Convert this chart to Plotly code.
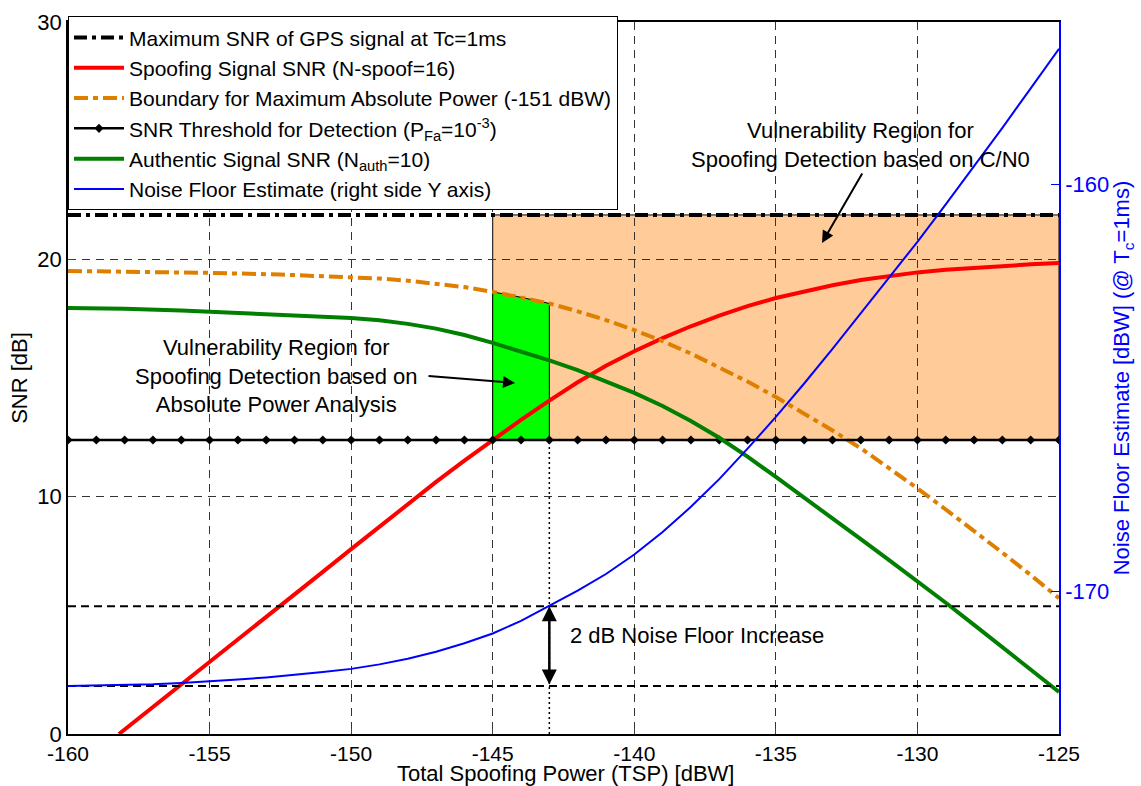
import plotly.graph_objects as go

# ---------------- data ----------------
# Spoofing signal SNR (red)
spoof_x = [-158.2, -157, -156, -155, -154, -153, -152, -151, -150, -149, -148,
           -147, -146, -145, -144, -143, -142, -141, -140, -139, -138, -137,
           -136, -135, -134, -133, -132, -131, -130, -129, -128, -127, -126, -125]
spoof_snr = [0.0, 1.13, 2.08, 3.03, 3.98, 4.93, 5.88, 6.83, 7.79, 8.74, 9.69,
             10.62, 11.52, 12.39, 13.24, 14.05, 14.82, 15.52, 16.13, 16.68, 17.18, 17.63,
             18.03, 18.37, 18.66, 18.91, 19.13, 19.31, 19.45, 19.56, 19.65, 19.72, 19.79, 19.85]

# Authentic signal SNR (green)
auth_x = [-160, -158, -156, -155, -154, -152, -151, -150, -149, -148, -147, -146,
          -145, -144, -143, -142, -141, -140, -139, -138, -137, -136, -135, -134,
          -133, -132, -131, -130, -129, -128, -127, -126, -125]
auth_snr = [17.95, 17.92, 17.84, 17.79, 17.74, 17.65, 17.60, 17.53, 17.43, 17.28,
            17.08, 16.81, 16.48, 16.12, 15.74, 15.33, 14.87, 14.37, 13.82, 13.19,
            12.48, 11.69, 10.83, 9.97, 9.09, 8.21, 7.33, 6.45, 5.53, 4.60, 3.66,
            2.71, 1.77]

# Boundary for maximum absolute power (orange dash-dot)
bound_x = [-160, -157.5, -155, -152.5, -150, -149, -148, -147, -146, -145, -144,
           -143, -142, -141, -140, -139, -138, -137, -136, -135, -134, -133, -132,
           -131, -130, -129, -128, -127, -126, -125]
bound_snr = [19.51, 19.48, 19.43, 19.36, 19.26, 19.19, 19.10, 18.98, 18.83, 18.63,
             18.40, 18.14, 17.81, 17.44, 17.02, 16.55, 16.03, 15.46, 14.85, 14.20,
             13.51, 12.79, 12.04, 11.22, 10.35, 9.46, 8.56, 7.64, 6.70, 5.72]

# Noise floor estimate (blue, right axis, dBW)
noise_x = [-160, -159, -158, -157, -156, -155, -154, -153, -152, -151, -150, -149,
           -148, -147, -146, -145, -144, -143, -142, -141, -140, -139, -138, -137,
           -136, -135, -134, -133, -132, -131, -130, -129, -128, -127, -126, -125]
noise_dbw = [-172.33, -172.32, -172.31, -172.29, -172.26, -172.22, -172.17, -172.12,
             -172.06, -171.99, -171.91, -171.80, -171.66, -171.49, -171.28, -171.04,
             -170.73, -170.37, -169.99, -169.58, -169.10, -168.55, -167.93, -167.25,
             -166.50, -165.72, -164.90, -164.05, -163.18, -162.30, -161.42, -160.50,
             -159.57, -158.62, -157.65, -156.68]

# Constant levels
MAX_SNR = 21.87             # max SNR of GPS signal at Tc=1ms
SNR_THRESHOLD = 12.39       # SNR threshold for detection
threshold_x = list(range(-160, -124))   # marker positions (every 1 dBW)
NOISE_LEVELS = [-172.33, -170.37]       # noise floor before / after 2 dB increase
APA_REGION = [-145, -143]               # absolute-power vulnerability region (x)
CN0_REGION = [-145, -125]               # C/N0 vulnerability region (x)
X_RANGE = [-160, -125]
Y_RANGE = [0, 30]
Y2_RANGE = [-173.51, -156.02]

x_ticks = [-160, -155, -150, -145, -140, -135, -130, -125]
x_ticktext = ["-160", "-155", "-150", "-145", "-140", "-135", "-130", "-125"]
y_ticks = [0, 10, 20, 30]
y_ticktext = ["0", "10", "20", "30"]
y2_ticks = [-170, -160]
y2_ticktext = ["-170", "-160"]

FONT = "Liberation Sans, Arial, sans-serif"
FS = 22

fig = go.Figure()

# green region polygon (top follows the orange boundary)
i0 = bound_x.index(APA_REGION[0])
i1 = bound_x.index(APA_REGION[1])
poly_x = [APA_REGION[0]] + bound_x[i0:i1 + 1] + [APA_REGION[1], APA_REGION[0]]
poly_y = [SNR_THRESHOLD] + bound_snr[i0:i1 + 1] + [SNR_THRESHOLD, SNR_THRESHOLD]
fig.add_trace(go.Scatter(
    x=poly_x, y=poly_y,
    fill="toself", fillcolor="#00FF00", mode="lines",
    line=dict(color="black", width=1), showlegend=False, hoverinfo="skip"))

# vertical dotted line at end of APA region
fig.add_trace(go.Scatter(
    x=[APA_REGION[1], APA_REGION[1]], y=[Y_RANGE[0], SNR_THRESHOLD],
    mode="lines", line=dict(color="black", width=1.5, dash="2px,3px"),
    showlegend=False, hoverinfo="skip"))

# noise floor level dashed lines (right axis)
for lvl in NOISE_LEVELS:
    fig.add_trace(go.Scatter(
        x=X_RANGE, y=[lvl, lvl], yaxis="y2", mode="lines",
        line=dict(color="black", width=2, dash="8px,5px"),
        showlegend=False, hoverinfo="skip"))

# legend traces
fig.add_trace(go.Scatter(
    x=X_RANGE, y=[MAX_SNR, MAX_SNR], mode="lines",
    name="Maximum SNR of GPS signal at Tc=1ms",
    line=dict(color="black", width=4, dash="13px,5px,4px,5px")))
fig.add_trace(go.Scatter(
    x=spoof_x, y=spoof_snr, mode="lines",
    name="Spoofing Signal SNR (N-spoof=16)",
    line=dict(color="#FF0000", width=4)))
fig.add_trace(go.Scatter(
    x=bound_x, y=bound_snr, mode="lines",
    name="Boundary for Maximum Absolute Power (-151 dBW)",
    line=dict(color="#DF7F00", width=4, dash="14px,5px,5px,5px")))
fig.add_trace(go.Scatter(
    x=threshold_x, y=[SNR_THRESHOLD] * len(threshold_x), mode="lines+markers",
    name="SNR Threshold for Detection (P<sub>Fa</sub>=10<sup>-3</sup>)",
    line=dict(color="black", width=2.5),
    marker=dict(symbol="diamond", size=7, color="black")))
fig.add_trace(go.Scatter(
    x=auth_x, y=auth_snr, mode="lines",
    name="Authentic Signal SNR (N<sub>auth</sub>=10)",
    line=dict(color="#007F00", width=4)))
fig.add_trace(go.Scatter(
    x=noise_x, y=noise_dbw, yaxis="y2", mode="lines",
    name="Noise Floor Estimate (right side Y axis)",
    line=dict(color="#0000FF", width=2)))

# peach region (below gridlines)
fig.add_shape(type="rect", xref="x", yref="y", layer="below",
              x0=CN0_REGION[0], x1=CN0_REGION[1], y0=SNR_THRESHOLD, y1=MAX_SNR,
              fillcolor="#FFCC99", line=dict(color="black", width=1))

# annotations
fig.add_annotation(x=-132.0, y=24.8, xref="x", yref="y", showarrow=False,
                   text="Vulnerability Region for<br>Spoofing Detection based on C/N0",
                   font=dict(size=FS, color="black", family=FONT), align="center")
fig.add_annotation(x=-133.37, y=20.69, ax=-131.92, ay=23.68, axref="x", ayref="y",
                   xref="x", yref="y", text="", showarrow=True, arrowhead=2,
                   arrowsize=1.2, arrowwidth=2, arrowcolor="black")
fig.add_annotation(x=-152.62, y=15.09, xref="x", yref="y", showarrow=False,
                   text="Vulnerability Region for<br>Spoofing Detection based on<br>Absolute Power Analysis",
                   font=dict(size=FS, color="black", family=FONT), align="center")
fig.add_annotation(x=-144.21, y=14.79, ax=-147.32, ay=15.09, axref="x", ayref="y",
                   xref="x", yref="y", text="", showarrow=True, arrowhead=2,
                   arrowsize=1.2, arrowwidth=2, arrowcolor="black")
fig.add_annotation(x=-142.34, y=4.13, xref="x", yref="y", showarrow=False,
                   xanchor="left", text="2 dB Noise Floor Increase",
                   font=dict(size=FS, color="black", family=FONT))
fig.add_annotation(x=APA_REGION[1], y=NOISE_LEVELS[1], ax=APA_REGION[1], ay=NOISE_LEVELS[0],
                   axref="x", ayref="y2", xref="x", yref="y2", text="",
                   showarrow=True, arrowhead=2, startarrowhead=2, arrowside="end+start",
                   arrowsize=1.2, arrowwidth=2.5, arrowcolor="black")

# x-axis title (placed as paper annotation so it can sit low like the reference)
fig.add_annotation(x=0.502, y=-0.055, xref="paper", yref="paper", showarrow=False,
                   xanchor="center", yanchor="middle",
                   text="Total Spoofing Power (TSP) [dBW]",
                   font=dict(size=FS, color="black", family=FONT))

fig.update_layout(
    width=1141, height=786,
    margin=dict(l=68, r=82, t=22, b=52),
    paper_bgcolor="white", plot_bgcolor="white",
    font=dict(family=FONT, size=FS, color="black"),
    showlegend=True,
    legend=dict(x=0, y=1.008, xanchor="left", yanchor="top",
                bgcolor="white", bordercolor="black", borderwidth=1,
                font=dict(size=21, family=FONT), tracegroupgap=0,
                itemwidth=50),
    xaxis=dict(range=X_RANGE, tickvals=x_ticks, ticktext=x_ticktext,
               ticks="inside", ticklen=6, automargin=False,
               showline=True, linecolor="black", linewidth=1.5, mirror=True,
               showgrid=True, gridcolor="#333333", gridwidth=1, griddash="8px,6px",
               zeroline=False, tickfont=dict(size=21)),
    yaxis=dict(range=Y_RANGE, tickvals=y_ticks, ticktext=y_ticktext,
               ticks="inside", ticklen=6, automargin=False,
               showline=True, linecolor="black", linewidth=1.5, mirror=False,
               showgrid=True, gridcolor="#333333", gridwidth=1, griddash="8px,6px",
               zeroline=False, tickfont=dict(size=FS),
               title=dict(text="SNR [dB]", font=dict(size=FS), standoff=4)),
    yaxis2=dict(range=Y2_RANGE, tickvals=y2_ticks, ticktext=y2_ticktext,
                overlaying="y", side="right", automargin=False,
                ticks="inside", ticklen=8, tickcolor="#0000FF",
                showline=True, linecolor="#0000FF", linewidth=1.5,
                showgrid=False, zeroline=False,
                tickfont=dict(size=FS, color="#0000FF"),
                title=dict(text="Noise Floor Estimate [dBW] (@ T<sub>c</sub>=1ms)",
                           font=dict(size=FS, color="#0000FF"), standoff=4)),
)

fig.write_html("out.html")
